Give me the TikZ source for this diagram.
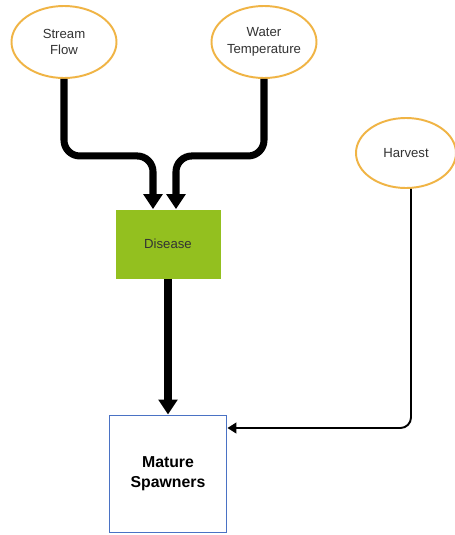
\documentclass[tikz,border=0pt]{standalone}
\usepackage{fontspec}
\setmainfont{Liberation Sans}
\usetikzlibrary{positioning,shapes.geometric,arrows.meta}
\definecolor{oval}{HTML}{F0B445}
\definecolor{leaf}{HTML}{93C01F}
\definecolor{frame}{HTML}{4A72C4}
\definecolor{ink}{HTML}{333333}
\tikzset{
    factor/.style={ellipse, draw=oval, line width=1.1pt, fill=white,
        minimum width=2.1cm, minimum height=1.44cm, inner sep=0pt,
        align=center, text=ink, font=\fontsize{7.5}{9.5}\selectfont},
    effect/.style={rectangle, fill=leaf, minimum width=2.1cm,
        minimum height=1.38cm, text=ink, font=\fontsize{7.5}{9.5}\selectfont},
    stock/.style={rectangle, draw=frame, line width=1.1pt, fill=white,
        minimum width=2.34cm, minimum height=2.34cm, align=center,
        font=\fontsize{9}{11.5}\selectfont\bfseries},
    heavy/.style={line width=4pt, rounded corners=9pt,
        -{Triangle[width=10.5pt,length=8.5pt]}},
    light/.style={line width=1.1pt, rounded corners=6pt,
        -{Triangle[width=6pt,length=5pt]}}
}

\begin{document}
\begin{tikzpicture}
\fill[white] (0,0) rectangle (9.1,-10.7);
\useasboundingbox (0,0) rectangle (9.1,-10.7);

\node[factor] (flow) at (1.28,-0.84) {Stream\\Flow};
\node[factor] (temp) at (5.28,-0.84) {Water\\Temperature};
\node[factor, minimum width=2.0cm, minimum height=1.4cm] (harvest) at (8.12,-3.06) {Harvest};
\node[effect] (disease) at (3.36,-4.88) {Disease};
\node[stock] (spawners) at (3.36,-9.48) {Mature\\Spawners};

% inputs to disease
\draw[heavy] (flow.south) -- ++(0,-1.54) -| ([xshift=-0.3cm]disease.north);
\draw[heavy] (temp.south) -- ++(0,-1.54) -| ([xshift=0.16cm]disease.north);
\draw[heavy] (disease) -- (spawners);

% harvest
\draw[light] ([xshift=0.1cm]harvest.south) |- ([yshift=0.92cm]spawners.east);
\end{tikzpicture}
\end{document}
